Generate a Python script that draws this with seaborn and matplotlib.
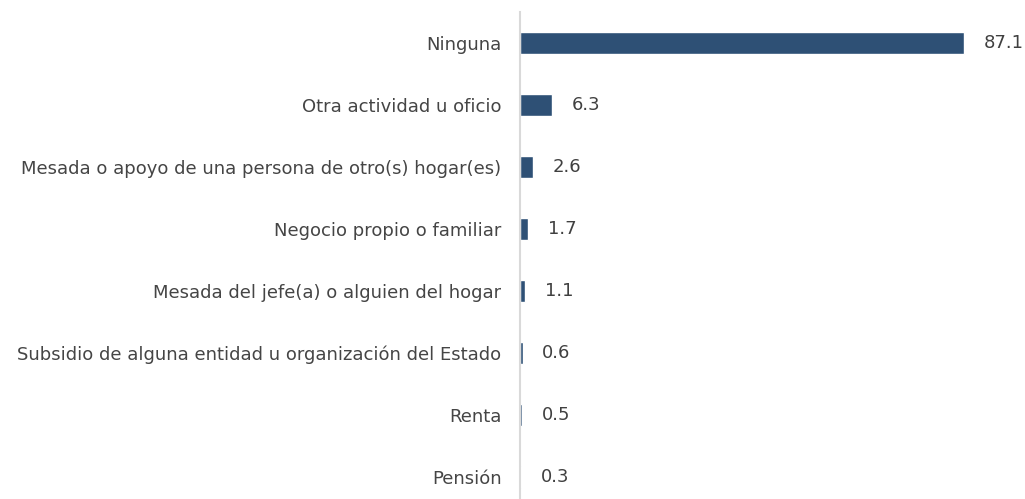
import matplotlib.pyplot as plt
import pandas as pd
import seaborn as sns

categories = [
    "Ninguna",
    "Otra actividad u oficio",
    "Mesada o apoyo de una persona de otro(s) hogar(es)",
    "Negocio propio o familiar",
    "Mesada del jefe(a) o alguien del hogar",
    "Subsidio de alguna entidad u organización del Estado",
    "Renta",
    "Pensión",
]
values = [87.1, 6.3, 2.6, 1.7, 1.1, 0.6, 0.5, 0.3]

data = pd.DataFrame({"cat": categories, "val": values})

sns.set_style("white")
plt.rcParams["font.family"] = ["DejaVu Sans"]

fig = plt.figure(figsize=(10.25, 4.99), dpi=100)
ax = fig.add_axes([0.507, 0.0, 0.493, 1.0])

sns.barplot(data=data, x="val", y="cat", orient="h", color="#2E5075",
            saturation=1, width=0.355, ax=ax)

ax.set_xlim(0, 99)
ax.set_ylim(7.355, -0.694)
ax.set_xlabel("")
ax.set_ylabel("")
ax.set_xticks([])
ax.tick_params(axis="y", length=0, pad=13, labelsize=13, labelcolor="#454545")

for s in ["top", "right", "bottom"]:
    ax.spines[s].set_visible(False)
ax.spines["left"].set_color("#D9D9D9")
ax.spines["left"].set_linewidth(1.5)
ax.spines["left"].set_bounds(-0.5, 7.355)

ax.bar_label(ax.containers[0], labels=[f"{v:.1f}" for v in values],
             padding=14, fontsize=13, color="#404040")

fig.savefig("out.png", dpi=100)
